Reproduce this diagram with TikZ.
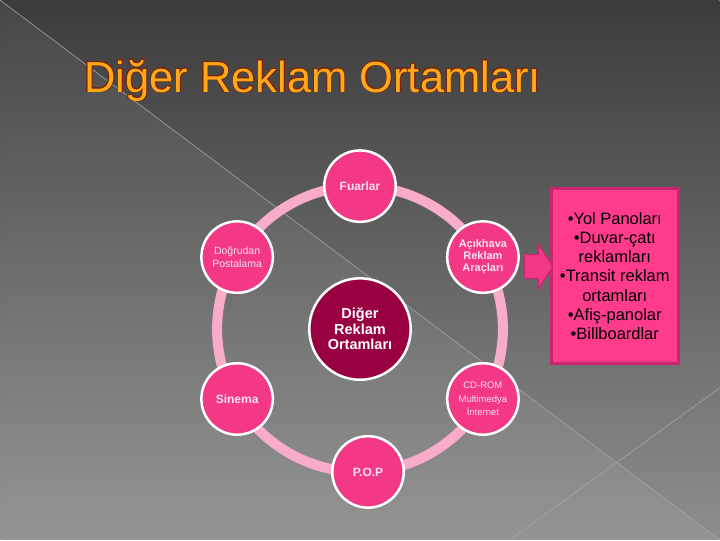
\documentclass[tikz,border=0pt]{standalone}
\usepackage{fontspec}
\setmainfont{Liberation Sans}
\usepackage[copies]{contour}
\contourlength{0.6pt}
\usetikzlibrary{shapes.arrows,calc}

\definecolor{bgtop}{RGB}{60,60,60}
\definecolor{bgbottom}{RGB}{142,142,142}
\definecolor{bgline}{RGB}{165,165,165}
\definecolor{titleorange}{RGB}{255,168,24}
\definecolor{titleedge}{RGB}{125,35,10}
\definecolor{ringpink}{RGB}{248,172,202}
\definecolor{itempink}{RGB}{243,56,134}
\definecolor{itemtext}{RGB}{252,226,240}
\definecolor{corered}{RGB}{152,0,66}
\definecolor{boxpink}{RGB}{255,60,140}
\definecolor{boxedge}{RGB}{200,38,110}

\begin{document}
\begin{tikzpicture}[x=1pt,y=-1pt,
  item/.style={circle,draw=white,line width=2.5pt,fill=itempink,minimum size=71.5pt,
    inner sep=1pt,align=center,text=itemtext},
  core/.style={circle,draw=white,line width=2.5pt,fill=corered,minimum size=101.5pt,
    inner sep=1pt,align=center,text=white,font=\bfseries\fontsize{14.5}{15.5}\selectfont},
  listbox/.style={rectangle,draw=boxedge,line width=3pt,fill=boxpink,minimum width=127pt,
    minimum height=175pt,align=center,text=black,font=\fontsize{16.5}{19.3}\selectfont},
  blockarrow/.style={single arrow,draw=boxedge,line width=1pt,fill=itempink,minimum height=28pt,
    inner xsep=0pt,inner ysep=11.5pt,single arrow head extend=10pt,single arrow tip angle=115}]
  % background
  \shade[top color=bgtop,bottom color=bgbottom] (0,0) rectangle (720,540);
  \fill[white,opacity=0.06] (0,0) -- (720,540) -- (0,540) -- cycle;
  \foreach \a/\b in {{(0,0)}/{(720,540)},{(720,388)}/{(510,540)}}
    \draw[bgline,line width=0.6pt] \a -- \b;
  \useasboundingbox (0,0) rectangle (720,540);

  % title
  \node[anchor=base west,inner sep=0pt,text=titleorange,font=\fontsize{43.5}{43.5}\selectfont]
    (title) at (84,92) {\contour{titleedge}{Diğer Reklam Ortamları}};

  % ring and hub
  \coordinate (hub) at (360,329);
  \draw[ringpink,line width=10pt] (hub) circle[radius=143pt];
  \node[core] (core) at (hub) {Diğer\\Reklam\\Ortamları};

  \node[item,font=\bfseries\fontsize{12}{14}\selectfont] (fuar) at (360,186) {Fuarlar};
  \node[item,font=\fontsize{10.5}{12.5}\selectfont] (dogru) at (237,257) {Doğrudan\\Postalama};
  \node[item,font=\bfseries\fontsize{11}{12}\selectfont] (acik) at (483,257) {Açıkhava\\Reklam\\Araçları};
  \node[item,font=\bfseries\fontsize{12}{14}\selectfont] (sinema) at (237,399) {Sinema};
  \node[item,font=\fontsize{9.5}{13.5}\selectfont] (cdrom) at (483,399) {CD-ROM\\Multimedya\\İnternet};
  \node[item,font=\bfseries\fontsize{12}{14}\selectfont] (pop) at (368,472) {P.O.P};

  % list of outdoor media
  \node[listbox] (box) at (615,276) {•Yol Panoları\\•Duvar-çatı\\reklamları\\•Transit reklam\\ortamları\\•Afiş-panolar\\•Billboardlar};
  \node[blockarrow] (arr) at ($(acik.east)!0.5!(box.west)$) {};
\end{tikzpicture}
\end{document}
